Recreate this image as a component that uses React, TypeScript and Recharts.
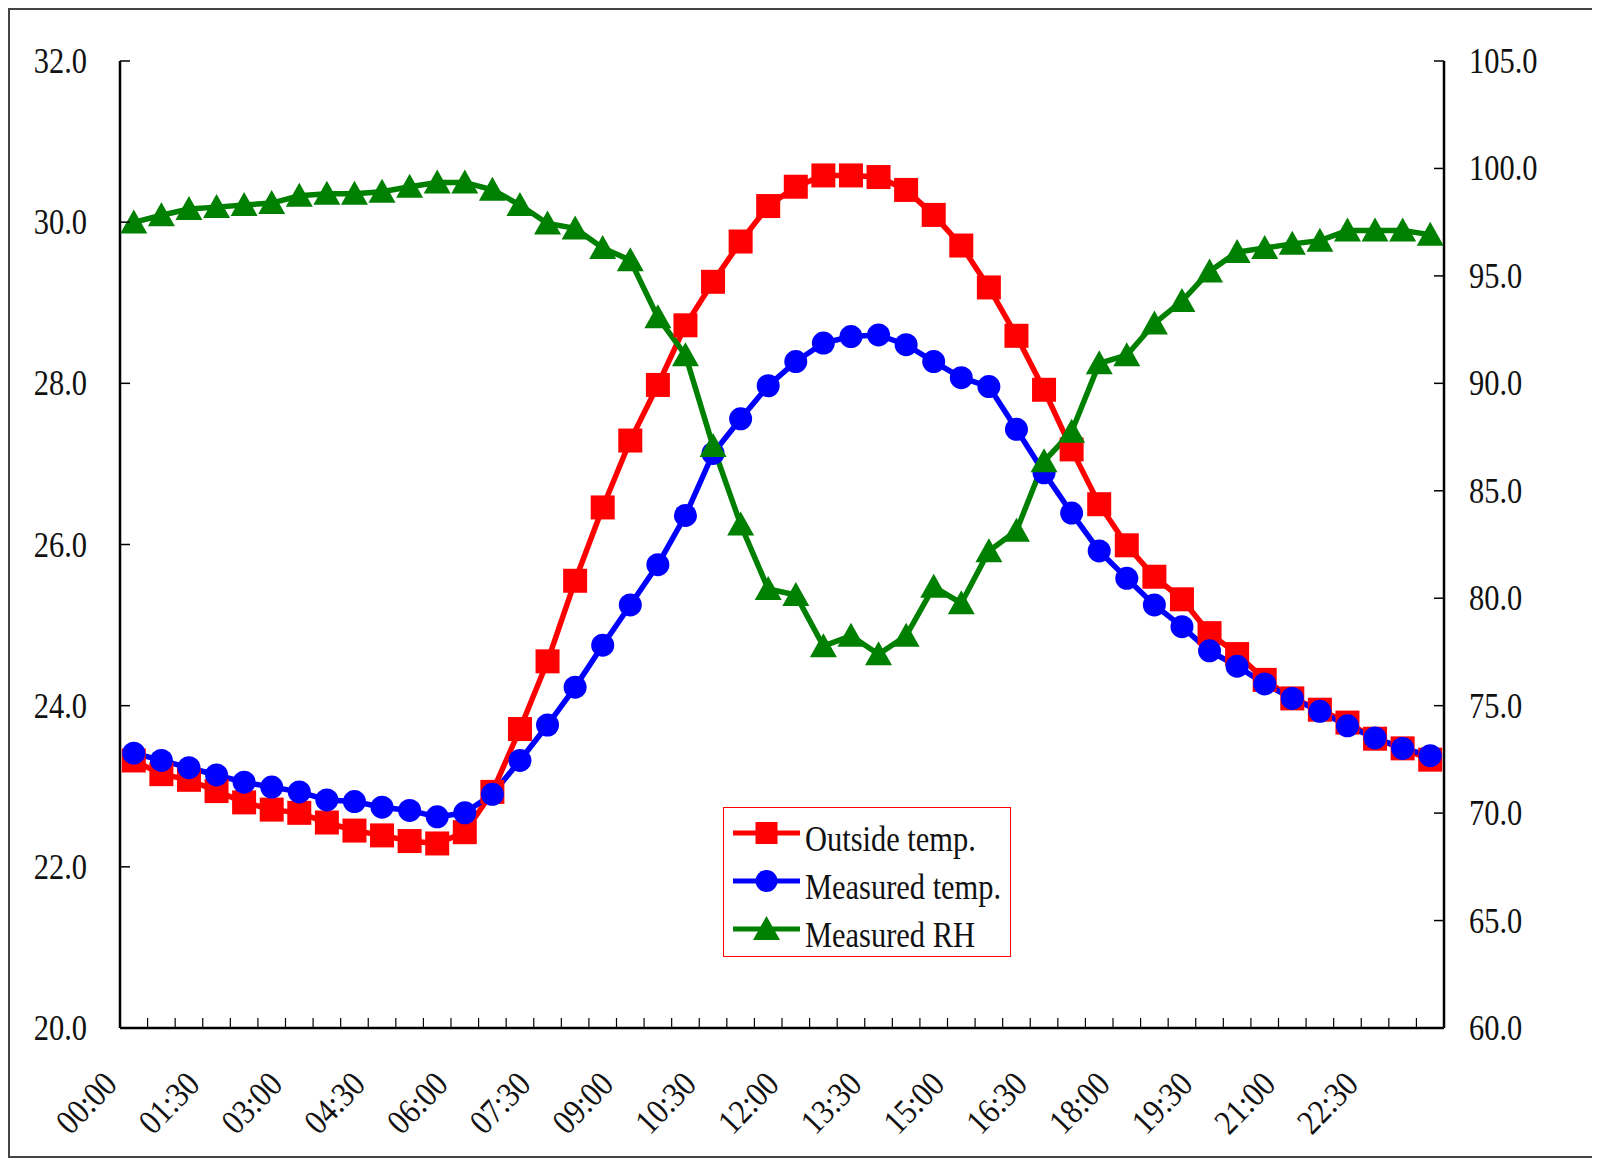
import React from 'react';
import { LineChart, Line, XAxis, YAxis, Legend } from 'recharts';

const times = [
  '00:00', '00:30', '01:00', '01:30', '02:00', '02:30', '03:00', '03:30',
  '04:00', '04:30', '05:00', '05:30', '06:00', '06:30', '07:00', '07:30',
  '08:00', '08:30', '09:00', '09:30', '10:00', '10:30', '11:00', '11:30',
  '12:00', '12:30', '13:00', '13:30', '14:00', '14:30', '15:00', '15:30',
  '16:00', '16:30', '17:00', '17:30', '18:00', '18:30', '19:00', '19:30',
  '20:00', '20:30', '21:00', '21:30', '22:00', '22:30', '23:00', '23:30',
];

const outsideTemp = [
  23.32, 23.15, 23.08, 22.94, 22.8, 22.71, 22.67, 22.55, 22.45, 22.39, 22.32, 22.29,
  22.43, 22.93, 23.71, 24.55, 25.55, 26.46, 27.29, 27.98, 28.72, 29.26, 29.76, 30.2,
  30.44, 30.58, 30.58, 30.56, 30.4, 30.09, 29.71, 29.19, 28.59, 27.92, 27.18, 26.5,
  25.99, 25.6, 25.32, 24.9, 24.64, 24.32, 24.09, 23.95, 23.79, 23.59, 23.47, 23.33,
];

const measuredTemp = [
  23.41, 23.32, 23.23, 23.14, 23.05, 22.99, 22.93, 22.83, 22.81, 22.74, 22.7, 22.62,
  22.67, 22.9, 23.32, 23.76, 24.23, 24.75, 25.25, 25.75, 26.36, 27.13, 27.56, 27.97,
  28.27, 28.5, 28.58, 28.6, 28.48, 28.27, 28.07, 27.96, 27.43, 26.89, 26.39, 25.92,
  25.58, 25.25, 24.98, 24.68, 24.49, 24.27, 24.09, 23.93, 23.75, 23.6, 23.47, 23.38,
];

const measuredRH = [
  97.49, 97.82, 98.11, 98.2, 98.3, 98.39, 98.73, 98.82, 98.82, 98.92, 99.15, 99.35,
  99.35, 99.01, 98.3, 97.44, 97.21, 96.3, 95.73, 93.07, 91.31, 87.08, 83.43, 80.43,
  80.15, 77.77, 78.25, 77.39, 78.25, 80.53, 79.77, 82.19, 83.14, 86.37, 87.75, 90.93,
  91.31, 92.79, 93.83, 95.21, 96.11, 96.3, 96.49, 96.64, 97.11, 97.11, 97.11, 96.92,
];

const leftTicks = [20, 22, 24, 26, 28, 30, 32];
const rightTicks = [60, 65, 70, 75, 80, 85, 90, 95, 100, 105];

const seriesKeys = ['outside', 'measured', 'rh'];
const seriesNames = ['Outside temp.', 'Measured temp.', 'Measured RH'];

const data = times.map((t, i) => ({
  time: t,
  outside: outsideTemp[i],
  measured: measuredTemp[i],
  rh: measuredRH[i],
}));

const FONT = '"Liberation Serif", "Times New Roman", serif';
const FS = 35;
const SX = 0.87;
const RED = '#FF0000';
const BLUE = '#0000FF';
const GREEN = '#008000';
const LINE_W = 5.5;

const CHART_W = 1588;
const CHART_H = 1146;
const MARGIN_TOP = 51;
const LEFT_W = 110;
const RIGHT_W = 154;
const BOTTOM_H = 128;
const PLOT_W = CHART_W - LEFT_W - RIGHT_W;
const HALF_BAND = PLOT_W / times.length / 2;

const LeftTick = (props: any) => {
  const { x, y, payload } = props;
  return (
    <g>
      <line x1={x} x2={x + 10} y1={y} y2={y} stroke="#000" strokeWidth={1.5} />
      <text
        transform={`translate(${x - 33}, ${y + 12}) scale(${SX},1)`}
        textAnchor="end"
        fontFamily={FONT}
        fontSize={FS}
        fill="#111"
      >
        {Number(payload.value).toFixed(1)}
      </text>
    </g>
  );
};

const RightTick = (props: any) => {
  const { x, y, payload } = props;
  return (
    <g>
      <line x1={x} x2={x - 10} y1={y} y2={y} stroke="#000" strokeWidth={1.5} />
      <text
        transform={`translate(${x + 25}, ${y + 12}) scale(${SX},1)`}
        textAnchor="start"
        fontFamily={FONT}
        fontSize={FS}
        fill="#111"
      >
        {Number(payload.value).toFixed(1)}
      </text>
    </g>
  );
};

const XTick = (props: any) => {
  const { x, y, payload, index } = props;
  const isLast = index === times.length - 1;
  return (
    <g>
      {!isLast && (
        <line
          x1={x + HALF_BAND}
          x2={x + HALF_BAND}
          y1={y}
          y2={y - 10}
          stroke="#000"
          strokeWidth={1.2}
        />
      )}
      {index % 3 === 0 && (
        <text
          transform={`translate(${x - 15}, ${y + 58}) rotate(-46) scale(${SX},1)`}
          textAnchor="end"
          fontFamily={FONT}
          fontSize={FS}
          fill="#111"
        >
          {payload.value}
        </text>
      )}
    </g>
  );
};

const squareDot = (p: any) => {
  if (p.cx == null || p.cy == null) return <g key={`s${p.index}`} />;
  return <rect key={`s${p.index}`} x={p.cx - 12} y={p.cy - 12} width={24} height={24} fill={RED} />;
};

const circleDot = (p: any) => {
  if (p.cx == null || p.cy == null) return <g key={`c${p.index}`} />;
  return <circle key={`c${p.index}`} cx={p.cx} cy={p.cy} r={11.5} fill={BLUE} />;
};

const triPoints = (cx: number, cy: number) =>
  `${cx},${cy - 13} ${cx - 13.5},${cy + 11} ${cx + 13.5},${cy + 11}`;

const triangleDot = (p: any) => {
  if (p.cx == null || p.cy == null) return <g key={`t${p.index}`} />;
  return <polygon key={`t${p.index}`} points={triPoints(p.cx, p.cy)} fill={GREEN} />;
};

const LegendContent = (props: any) => {
  const payload = [...(props.payload || [])].sort(
    (a: any, b: any) => seriesKeys.indexOf(a.dataKey) - seriesKeys.indexOf(b.dataKey)
  );
  const rowY = [26, 74, 122];
  return (
    <svg width={288} height={150} style={{ display: 'block' }}>
      <rect x={0.5} y={0.5} width={287} height={149} fill="#fff" stroke={RED} strokeWidth={1} />
      {payload.map((entry: any, i: number) => {
        const cy = rowY[i];
        const color = entry.color;
        const k = seriesKeys.indexOf(entry.dataKey);
        let marker;
        if (k === 0) marker = <rect x={43.5 - 11} y={cy - 11} width={22} height={22} fill={color} />;
        else if (k === 1) marker = <circle cx={43.5} cy={cy} r={11} fill={color} />;
        else marker = <polygon points={triPoints(43.5, cy)} fill={color} />;
        return (
          <g key={`leg${i}`}>
            <line x1={10} x2={77} y1={cy} y2={cy} stroke={color} strokeWidth={5} />
            {marker}
            <text
              transform={`translate(82, ${cy + 18}) scale(${SX},1)`}
              fontFamily={FONT}
              fontSize={FS}
              fill="#111"
            >
              {entry.value}
            </text>
          </g>
        );
      })}
    </svg>
  );
};

export default function App() {
  return (
    <div
      style={{
        width: 1592,
        height: 1150,
        border: '2px solid #444',
        boxSizing: 'border-box',
        background: '#fff',
        position: 'relative',
      }}
    >
      <LineChart
        width={CHART_W}
        height={CHART_H}
        data={data}
        margin={{ top: MARGIN_TOP, right: 0, bottom: 0, left: 0 }}
      >
        <XAxis
          xAxisId="bottom"
          dataKey="time"
          interval={0}
          tickSize={0}
          tickMargin={0}
          padding={{ left: HALF_BAND, right: HALF_BAND }}
          height={BOTTOM_H}
          axisLine={{ stroke: '#000', strokeWidth: 2.5 }}
          tickLine={false}
          tick={<XTick />}
        />
        <XAxis
          xAxisId="top"
          orientation="top"
          dataKey="time"
          height={0}
          tick={false}
          tickLine={false}
          padding={{ left: HALF_BAND, right: HALF_BAND }}
          axisLine={{ stroke: '#000', strokeWidth: 2.5 }}
        />
        <YAxis
          yAxisId="left"
          domain={[20, 32]}
          ticks={leftTicks}
          interval={0}
          width={LEFT_W}
          tickSize={0}
          tickMargin={0}
          tickLine={false}
          axisLine={{ stroke: '#000', strokeWidth: 2.5 }}
          tick={<LeftTick />}
          allowDataOverflow
        />
        <YAxis
          yAxisId="right"
          orientation="right"
          domain={[60, 105]}
          ticks={rightTicks}
          interval={0}
          width={RIGHT_W}
          tickSize={0}
          tickMargin={0}
          tickLine={false}
          axisLine={{ stroke: '#000', strokeWidth: 2.5 }}
          tick={<RightTick />}
          allowDataOverflow
        />
        <Legend
          layout="horizontal"
          verticalAlign="middle"
          align="center"
          itemSorter={null as any}
          content={<LegendContent />}
          wrapperStyle={{ left: 713, top: 797, width: 288, height: 150 }}
        />
        <Line
          name={seriesNames[0]}
          xAxisId="bottom"
          yAxisId="left"
          dataKey="outside"
          stroke={RED}
          strokeWidth={LINE_W}
          dot={squareDot}
          activeDot={false}
          isAnimationActive={false}
        />
        <Line
          name={seriesNames[1]}
          xAxisId="bottom"
          yAxisId="left"
          dataKey="measured"
          stroke={BLUE}
          strokeWidth={LINE_W}
          dot={circleDot}
          activeDot={false}
          isAnimationActive={false}
        />
        <Line
          name={seriesNames[2]}
          xAxisId="bottom"
          yAxisId="right"
          dataKey="rh"
          stroke={GREEN}
          strokeWidth={LINE_W}
          dot={triangleDot}
          activeDot={false}
          isAnimationActive={false}
        />
      </LineChart>
    </div>
  );
}
